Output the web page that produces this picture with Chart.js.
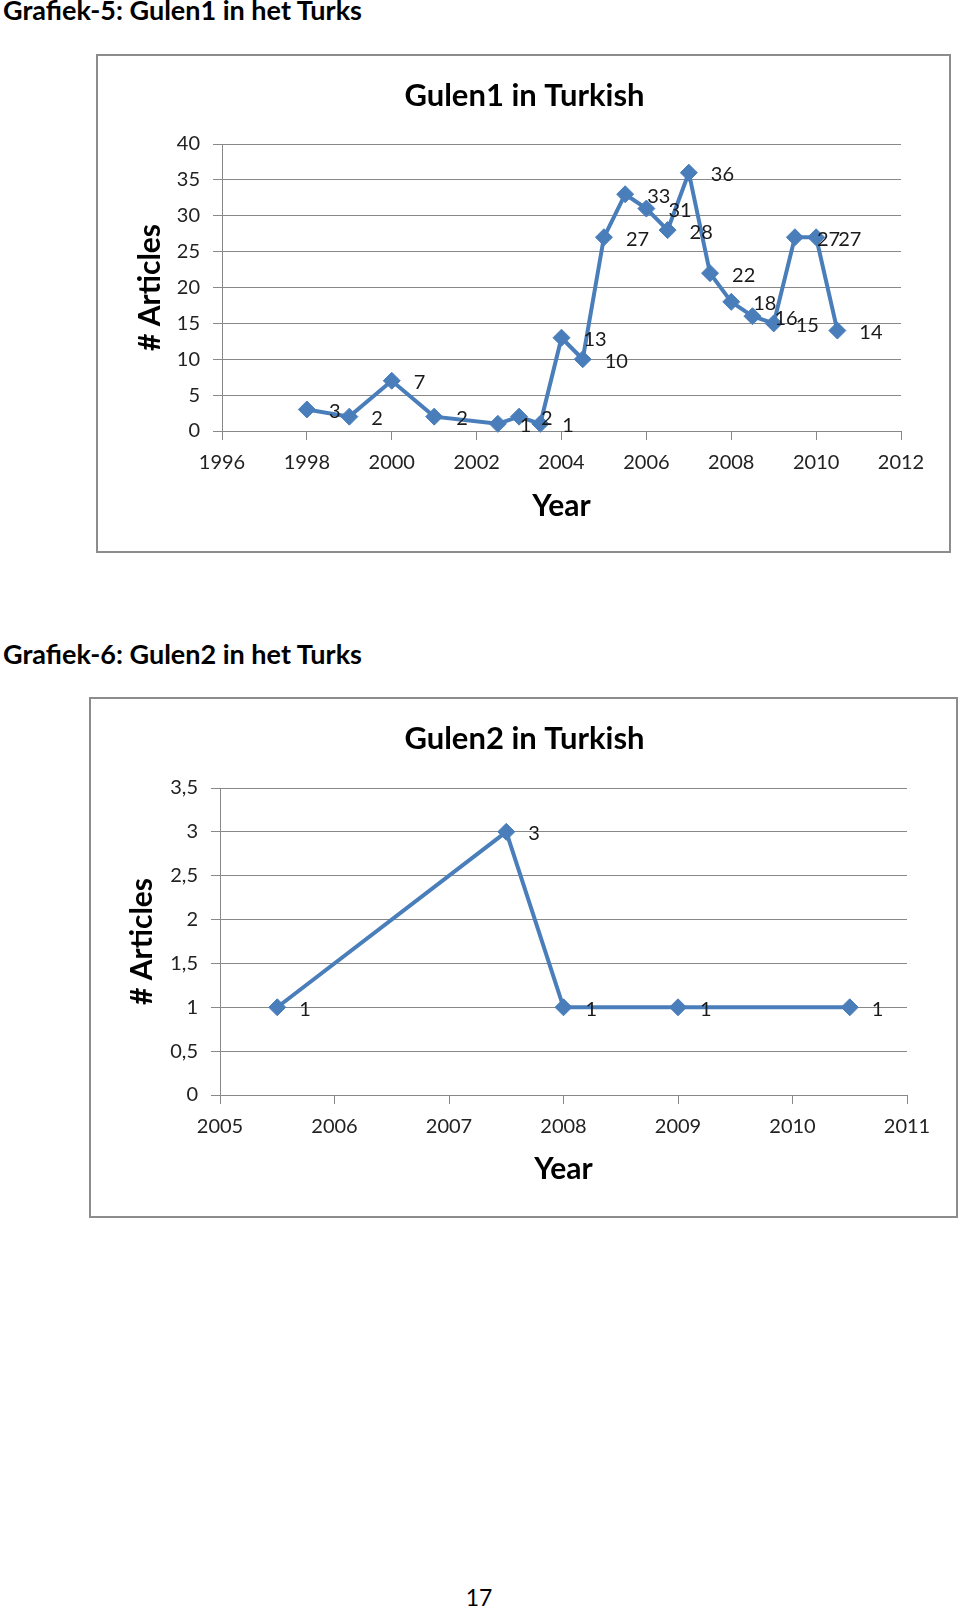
<!DOCTYPE html>
<html>
<head>
<meta charset="utf-8">
<script src="https://cdn.jsdelivr.net/npm/chart.js@4.4.1/dist/chart.umd.min.js"></script>
<style>
html,body{margin:0;padding:0;background:#fff;}
body{width:960px;height:1609px;position:relative;overflow:hidden;font-family:Lato,"Open Sans",sans-serif;color:#000;}
.h{position:absolute;left:3px;font-weight:bold;font-size:27px;line-height:1.2;white-space:nowrap;margin:0;}
.frame{position:absolute;border:2px solid #8c8c8c;box-sizing:border-box;background:#fff;}
.frame canvas{position:absolute;left:0;top:0;}
#pg{position:absolute;left:0;width:958px;text-align:center;font-size:23px;line-height:1.2;}
</style>
</head>
<body>
<div class="h" style="top:-6px">Grafiek-5: Gulen1 in het Turks</div>
<div class="frame" style="left:96px;top:54px;width:855px;height:499px"><canvas id="c1" width="851" height="495"></canvas></div>
<div class="h" style="top:638px">Grafiek-6: Gulen2 in het Turks</div>
<div class="frame" style="left:89px;top:697px;width:869px;height:521px"><canvas id="c2" width="865" height="517"></canvas></div>
<div id="pg" style="top:1584px">17</div>
<script>
// ---- Data: Gulen1 in Turkish ----
const title1 = 'Gulen1 in Turkish';
const years1 = [1998, 1999, 2000, 2001, 2002.5, 2003, 2003.5, 2004, 2004.5, 2005, 2005.5, 2006, 2006.5, 2007, 2007.5, 2008, 2008.5, 2009, 2009.5, 2010, 2010.5];
const articles1 = [3, 2, 7, 2, 1, 2, 1, 13, 10, 27, 33, 31, 28, 36, 22, 18, 16, 15, 27, 27, 14];
const xRange1 = [1996, 2012];
const xStep1 = 2;
const yRange1 = [0, 40];
const yStep1 = 5;

// ---- Data: Gulen2 in Turkish ----
const title2 = 'Gulen2 in Turkish';
const years2 = [2005.5, 2007.5, 2008, 2009, 2010.5];
const articles2 = [1, 3, 1, 1, 1];
const xRange2 = [2005, 2011];
const xStep2 = 1;
const yRange2 = [0, 3.5];
const yStep2 = 0.5;

const xTitle = 'Year';
const yTitle = '# Articles';

const LINE = '#4a7ebb';
const GRID = '#888888';
const FONT = 'Lato';

const pointLabels = {
  id: 'pointLabels',
  afterDatasetsDraw(chart) {
    const ctx = chart.ctx;
    ctx.save();
    ctx.font = '20px ' + FONT;
    ctx.fillStyle = '#1a1a1a';
    ctx.textAlign = 'left';
    ctx.textBaseline = 'middle';
    chart.data.datasets.forEach((ds, di) => {
      chart.getDatasetMeta(di).data.forEach((el, i) => {
        ctx.fillText(String(ds.data[i].y).replace('.', ','), el.x + 22, el.y + 2);
      });
    });
    ctx.restore();
  }
};

const centeredTitle = {
  id: 'centeredTitle',
  afterDraw(chart, args, opts) {
    const ctx = chart.ctx;
    ctx.save();
    ctx.font = 'bold 31px ' + FONT;
    ctx.fillStyle = '#000';
    ctx.textAlign = 'center';
    ctx.textBaseline = 'middle';
    ctx.fillText(opts.text, chart.width / 2 + 1, opts.y);
    ctx.restore();
  }
};

function makeChart(id, cfg) {
  const pts = cfg.xs.map((x, i) => ({x: x, y: cfg.ys[i]}));
  return new Chart(document.getElementById(id), {
    type: 'line',
    data: {datasets: [{
      data: pts,
      borderColor: LINE,
      backgroundColor: LINE,
      borderWidth: 4,
      pointStyle: 'rectRot',
      pointRadius: 8.5,
      pointBorderWidth: 1,
      pointBorderColor: LINE,
      pointBackgroundColor: LINE,
      tension: 0,
      clip: false
    }]},
    plugins: [pointLabels, centeredTitle],
    options: {
      responsive: false,
      animation: false,
      devicePixelRatio: 1,
      layout: {padding: {left: 0, top: cfg.topPad, right: cfg.rightPad, bottom: 0}},
      plugins: {
        legend: {display: false},
        tooltip: {enabled: false},
        title: {display: false},
        centeredTitle: {text: cfg.title, y: cfg.titleY}
      },
      scales: {
        x: {
          type: 'linear', min: cfg.xRange[0], max: cfg.xRange[1],
          ticks: {stepSize: cfg.xStep, callback: v => String(v), color: '#222', font: {family: FONT, size: 20}, padding: 11, maxRotation: 0, autoSkip: false},
          grid: {drawOnChartArea: false, drawTicks: true, tickLength: 9, color: GRID, lineWidth: 1},
          border: {display: true, color: GRID, width: 1},
          title: {display: true, text: xTitle, color: '#000', font: {family: FONT, size: 30, weight: 'bold', lineHeight: 1.2}, padding: {top: 0, bottom: cfg.xtPad}},
          afterFit(s) { s.height = cfg.xH; }
        },
        y: {
          type: 'linear', min: cfg.yRange[0], max: cfg.yRange[1],
          ticks: {stepSize: cfg.yStep, callback: v => String(v).replace('.', ','), color: '#222', font: {family: FONT, size: 20}, padding: 13},
          grid: {drawTicks: true, tickLength: 9, color: GRID, lineWidth: 1},
          border: {display: true, color: GRID, width: 1},
          title: {display: true, text: yTitle, color: '#000', font: {family: FONT, size: 30, weight: 'bold', lineHeight: 1.2}, padding: {top: cfg.ytPad, bottom: 0}},
          afterFit(s) { s.width = cfg.yW; }
        }
      }
    }
  });
}

makeChart('c1', {
  title: title1, titleY: 40, xs: years1, ys: articles1,
  xRange: xRange1, xStep: xStep1, yRange: yRange1, yStep: yStep1,
  topPad: 88, rightPad: 48, xH: 120, xtPad: 27, yW: 124, ytPad: 34
});
makeChart('c2', {
  title: title2, titleY: 40, xs: years2, ys: articles2,
  xRange: xRange2, xStep: xStep2, yRange: yRange2, yStep: yStep2,
  topPad: 89, rightPad: 49, xH: 121, xtPad: 29, yW: 129, ytPad: 33
});
</script>
</body>
</html>
